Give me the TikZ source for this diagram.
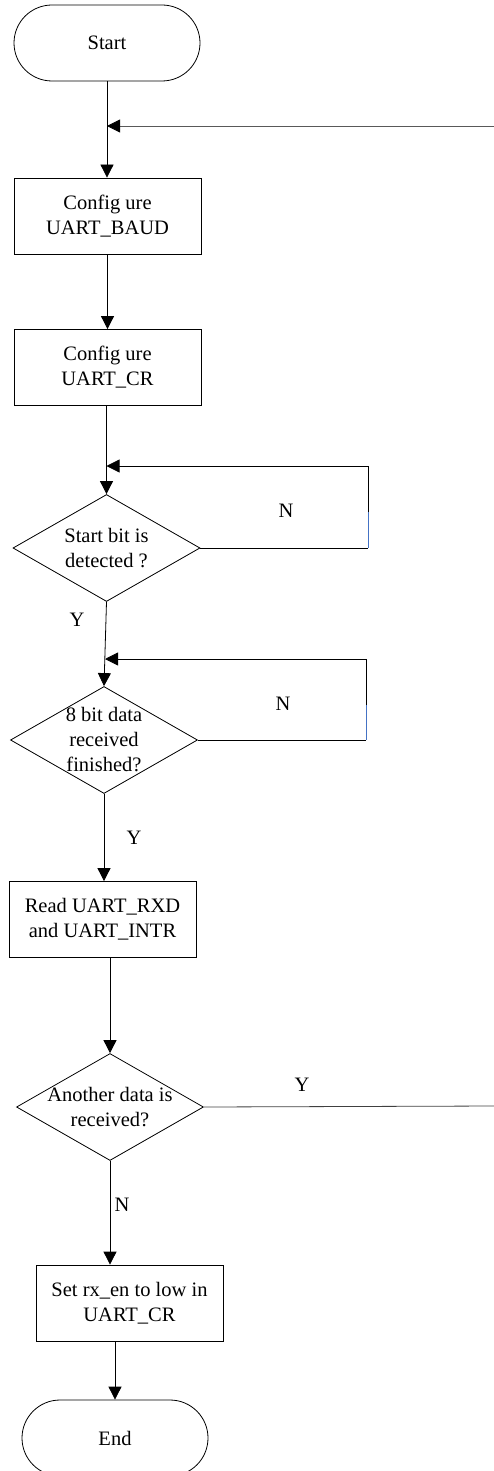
\documentclass[tikz,border=0pt]{standalone}
\usepackage{fontspec}
\setmainfont{Liberation Serif}
\usetikzlibrary{shapes.geometric,arrows.meta}
\definecolor{loopblue}{HTML}{4472C4}
\begin{document}
\begin{tikzpicture}[x=1pt,y=-1pt,
  every node/.style={font=\fontsize{20.5}{25}\selectfont},
  term/.style={draw, line width=0.8pt, rounded corners=38pt, minimum width=186pt, minimum height=76pt, inner sep=0pt},
  procbox/.style={draw, line width=0.8pt, minimum width=187pt, minimum height=76pt, align=center, inner sep=0pt},
  decision/.style={draw, line width=0.8pt, diamond, minimum width=187pt, minimum height=107pt, inner sep=0pt},
  dtext/.style={align=center, inner sep=0pt},
  tag/.style={inner sep=0pt},
  flow/.style={line width=0.8pt, -{Triangle[length=13pt,width=13pt,color=black]}},
  plain/.style={line width=0.8pt},
]
\useasboundingbox (0,0) rectangle (494,1471);

% boxes and decisions
\node[term] (start) at (107,43) {Start};
\node[procbox] (baud) at (107.5,216) {Config ure\\UART\_BAUD};
\node[procbox] (cr) at (107.5,367.5) {Config ure\\UART\_CR};
\node[decision] (sb) at (106.5,548) {};
\node[dtext] (sbt) at (sb) {Start bit is\\detected ?};
\node[decision] (fin) at (104,740) {};
\node[dtext] (fint) at (fin) {8 bit data\\received\\finished?};
\node[procbox] (rd) at (102.5,919.5) {Read UART\_RXD\\and UART\_INTR};
\node[decision] (more) at (110,1107) {};
\node[dtext] (moret) at (more) {Another data is\\received?};
\node[procbox] (rx) at (129.5,1303) {Set rx\_en to low in\\UART\_CR};
\node[term] (end) at (115,1438) {End};

% helper points for the loops
\coordinate (m1) at (107,126);
\coordinate (r1) at (494,126);
\coordinate (m2) at (106.5,466);
\coordinate (k1) at (368,548);
\coordinate (k1b) at (368,512);
\coordinate (k1t) at (368,466);
\coordinate (m3) at (105,659);
\coordinate (k2) at (366,740);
\coordinate (k2b) at (366,705);
\coordinate (k2t) at (366,659);
\coordinate (r2) at (494,1106);

% main flow
\draw[flow] (start.south) -- (baud.north -| start.south);
\draw[flow, draw=black!65] (r1) -- (m1);
\draw[flow] (baud.south) -- (cr.north);
\draw[flow] (cr.south -| sb.north) -- (sb.north);

% wait for start bit
\draw[plain] (sb.east) -- (k1);
\draw[plain, loopblue] (k1) -- (k1b);
\draw[flow] (k1b) -- (k1t) -- (m2);
\node[tag] (n1) at (286,511) {N};

% wait for 8 data bits
\draw[flow] (sb.south) -- (fin.north);
\node[tag] (y1) at (77,620) {Y};
\draw[plain] (fin.east) -- (k2);
\draw[plain, loopblue] (k2) -- (k2b);
\draw[flow] (k2b) -- (k2t) -- (m3);
\node[tag] (n2) at (283,704) {N};

\draw[flow] (fin.south) -- (rd.north -| fin.south);
\node[tag] (y2) at (134,838) {Y};
\draw[flow] (rd.south -| more.north) -- (more.north);

% another byte: go back to the top
\draw[plain, draw=black!75] (more.east) -- (r2);
\node[tag] (y3) at (302,1085) {Y};

% finish
\draw[flow] (more.south) -- (rx.north -| more.south);
\node[tag] (n3) at (122,1205) {N};
\draw[flow] (rx.south -| end.north) -- (end.north);
\end{tikzpicture}
\end{document}
